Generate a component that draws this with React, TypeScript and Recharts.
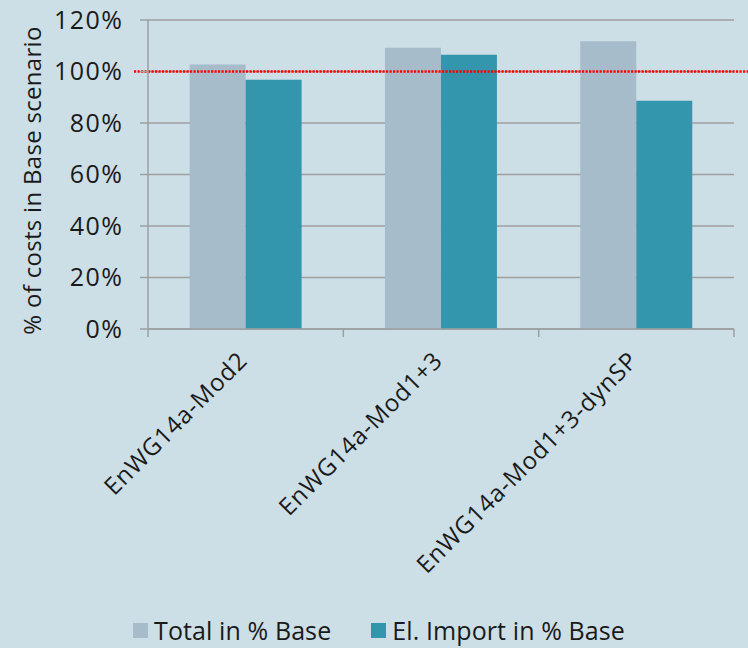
import React from 'react';
import { BarChart, Bar, XAxis, YAxis, CartesianGrid, ReferenceLine, Legend } from 'recharts';

const categories = ['EnWG14a-Mod2', 'EnWG14a-Mod1+3', 'EnWG14a-Mod1+3-dynSP'];
const totalPct = [102.7, 109.2, 111.7];
const importPct = [96.8, 106.5, 88.6];
const yTicks = [0, 20, 40, 60, 80, 100, 120];
const seriesNames = ['Total in % Base', 'El. Import in % Base'];
const referenceValue = 100;

const data = categories.map((c, i) => ({ name: c, total: totalPct[i], imp: importPct[i] }));

const FONT = '"Open Sans", "DejaVu Sans", sans-serif';
const BG = '#cddfe6';
const C_TOTAL = '#a6bcca';
const C_IMPORT = '#3496ac';
const GRID = '#9d9fa1';
const TEXT = '#1a1a1a';
const W = 748;
const H = 648;

const XTick = (props: any) => {
  const { x, y, payload, index, visibleTicksCount } = props;
  const half = payload && payload.offset ? payload.offset : 97.5;
  const last = index === visibleTicksCount - 1;
  const ax = x + 3;
  const ay = y + 33;
  return (
    <g>
      <line x1={x - half} x2={x - half} y1={y} y2={y + 8} stroke={GRID} strokeWidth={1.5} />
      {last && <line x1={x + half} x2={x + half} y1={y} y2={y + 8} stroke={GRID} strokeWidth={1.5} />}
      <text
        x={ax}
        y={ay}
        transform={`rotate(-45, ${ax}, ${ay})`}
        textAnchor="end"
        fontFamily={FONT}
        fontSize={24}
        letterSpacing={0.8}
        fill={TEXT}
      >
        {payload.value}
      </text>
    </g>
  );
};

const YLabel = (props: any) => {
  const vb = props.viewBox || { x: 0, y: 20, width: 148, height: 309 };
  const cx = 41;
  const cy = vb.y + vb.height / 2 + 6;
  return (
    <text
      x={cx}
      y={cy}
      transform={`rotate(-90, ${cx}, ${cy})`}
      textAnchor="middle"
      fontFamily={FONT}
      fontSize={24}
      letterSpacing={0.3}
      fill={TEXT}
    >
      % of costs in Base scenario
    </text>
  );
};

const RefShape = (props: any) => {
  const { x1, y1, y2 } = props;
  return (
    <line
      x1={x1 - 14}
      x2={W}
      y1={y1}
      y2={y2}
      stroke="#ff0000"
      strokeWidth={2.5}
      strokeDasharray="2.2 1.3"
    />
  );
};

const LegendContent = () => {
  const colors = [C_TOTAL, C_IMPORT];
  return (
    <div
      style={{
        display: 'flex',
        justifyContent: 'center',
        alignItems: 'center',
        height: 40,
        fontFamily: FONT,
        fontSize: 25,
        letterSpacing: 0.1,
        color: TEXT,
        gap: 40,
        paddingLeft: 24,
        paddingTop: 4,
        boxSizing: 'border-box',
      }}
    >
      {seriesNames.map((n, i) => (
        <div key={n} style={{ display: 'flex', alignItems: 'center' }}>
          <span style={{ display: 'inline-block', width: 15, height: 15, background: colors[i], marginRight: 6 }} />
          <span>{n}</span>
        </div>
      ))}
    </div>
  );
};

export default function App() {
  return (
    <div style={{ position: 'absolute', left: 0, top: 0, width: W, height: H, background: BG }}>
      <BarChart
        width={W}
        height={H}
        data={data}
        margin={{ top: 20, right: 14, bottom: 0, left: 0 }}
        barCategoryGap="21.3%"
        barGap={0}
      >
        <CartesianGrid vertical={false} stroke={GRID} strokeWidth={1.5} />
        <XAxis
          dataKey="name"
          interval={0}
          height={279}
          tickSize={0}
          tickMargin={0}
          tickLine={false}
          axisLine={{ stroke: GRID, strokeWidth: 1.5 }}
          tick={<XTick />}
        />
        <YAxis
          width={148}
          domain={[0, 120]}
          ticks={yTicks}
          interval={0}
          tickFormatter={(v: number) => `${v}%`}
          tickSize={8}
          tickMargin={16.5}
          tickLine={{ stroke: GRID, strokeWidth: 1.5 }}
          axisLine={{ stroke: GRID, strokeWidth: 1.5 }}
          tick={{ fontFamily: FONT, fontSize: 25, fill: TEXT, letterSpacing: 1.5 }}
          label={<YLabel />}
        />
        <Bar dataKey="total" name={seriesNames[0]} fill={C_TOTAL} isAnimationActive={false} />
        <Bar dataKey="imp" name={seriesNames[1]} fill={C_IMPORT} isAnimationActive={false} />
        <ReferenceLine y={referenceValue} shape={<RefShape />} ifOverflow="visible" />
        <Legend verticalAlign="bottom" content={<LegendContent />} />
      </BarChart>
    </div>
  );
}
